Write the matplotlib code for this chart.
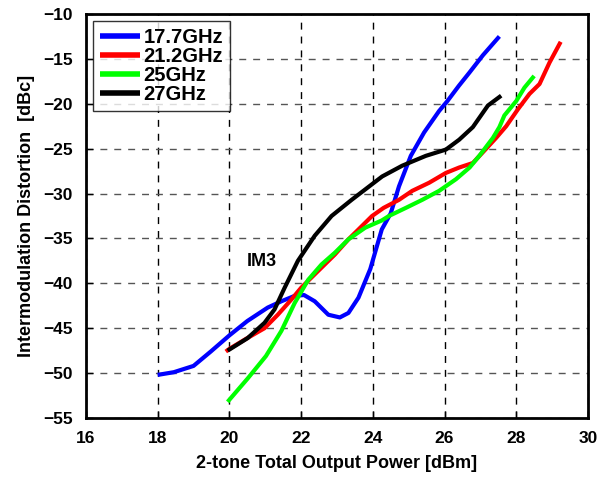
import matplotlib.pyplot as plt

plt.rcParams['font.family'] = ['Liberation Sans', 'DejaVu Sans']
plt.rcParams['font.weight'] = 'bold'

# 17.7GHz
x_177 = [18.0, 18.45, 19.0, 19.48, 20.0, 20.5, 21.07, 21.45, 21.82, 22.08, 22.38, 22.76,
         23.08, 23.32, 23.6, 23.93, 24.25, 24.5, 24.73, 25.06, 25.43, 25.85, 26.08, 26.4,
         26.7, 27.07, 27.53]
y_177 = [-50.2, -49.9, -49.2, -47.6, -45.8, -44.2, -42.7, -42.0, -41.4, -41.3, -42.0, -43.5,
         -43.8, -43.3, -41.6, -38.4, -34.0, -32.2, -29.2, -25.8, -23.2, -20.8, -19.7, -18.0,
         -16.5, -14.6, -12.5]

# 21.2GHz
x_212 = [19.9, 20.0, 20.5, 20.98, 21.35, 21.73, 22.0, 22.38, 22.94, 23.32, 23.6, 23.98,
         24.3, 24.73, 25.1, 25.57, 26.04, 26.41, 26.79, 27.07, 27.44, 27.72, 28.05, 28.37,
         28.65, 28.93, 29.24]
y_212 = [-47.6, -47.3, -46.1, -45.0, -43.5, -41.8, -40.5, -39.0, -36.8, -35.1, -34.0, -32.5,
         -31.6, -30.7, -29.7, -28.8, -27.7, -27.1, -26.6, -25.4, -23.8, -22.5, -20.6, -18.9,
         -17.8, -15.4, -13.1]

# 25GHz
x_25 = [19.95, 20.51, 21.02, 21.45, 21.82, 22.2, 22.57, 22.94, 23.32, 23.79, 24.25, 24.45,
        24.92, 25.38, 25.85, 26.32, 26.7, 26.97, 27.35, 27.53, 27.67, 28.0, 28.23, 28.5]
y_25 = [-53.2, -50.6, -48.1, -45.3, -42.2, -39.6, -37.9, -36.6, -35.1, -33.8, -33.0, -32.5,
        -31.6, -30.7, -29.7, -28.4, -27.1, -25.8, -23.8, -22.6, -21.3, -19.7, -18.2, -16.9]

# 27GHz
x_27 = [19.95, 20.51, 20.98, 21.26, 21.54, 21.91, 22.38, 22.85, 23.41, 24.26, 24.82, 25.48,
        26.04, 26.41, 26.79, 27.21, 27.58]
y_27 = [-47.5, -46.1, -44.4, -42.9, -40.5, -37.5, -34.7, -32.5, -30.7, -28.1, -26.9, -25.8,
        -25.1, -24.0, -22.6, -20.2, -19.1]

labels = ['17.7GHz', '21.2GHz', '25GHz', '27GHz']
colors = ['#0000ff', '#ff0000', '#00ff00', '#000000']

fig = plt.figure(figsize=(6.08, 4.82), dpi=100)
ax = fig.add_axes([0.1414, 0.1328, 0.8256, 0.8382])

for xs, ys, lab, c in zip([x_177, x_212, x_25, x_27], [y_177, y_212, y_25, y_27], labels, colors):
    ax.plot(xs, ys, color=c, lw=3, label=lab, solid_capstyle='butt')

ax.set_xlim(16, 30)
ax.set_ylim(-55, -10)
ax.set_xticks(range(16, 31, 2))
ax.set_yticks(range(-55, -9, 5))
ax.xaxis.grid(True, color='black', linestyle=(0, (5, 5)), lw=1)
ax.yaxis.grid(True, color='#555555', linestyle=(0, (5, 5)), lw=1)
ax.set_axisbelow(True)
for s in ax.spines.values():
    s.set_linewidth(2)
ax.tick_params(direction='in', length=5, width=1, labelsize=12.5, pad=9.5)

ax.set_xlabel('2-tone Total Output Power [dBm]', fontsize=13, fontweight='bold', labelpad=6)
ax.set_ylabel('Intermodulation Distortion  [dBc]', fontsize=13, fontweight='bold', labelpad=6)
ax.text(20.9, -37.6, 'IM3', fontsize=13, fontweight='bold', ha='center', va='center')

leg = ax.legend(loc='upper left', fontsize=14.5, frameon=True, fancybox=False, borderaxespad=0.35,
                handlelength=2.0, handletextpad=0.15, labelspacing=0.0, borderpad=0.35)
leg.get_frame().set_edgecolor('black')
leg.get_frame().set_linewidth(1)
for t in leg.get_texts():
    t.set_fontweight('bold')
for h in leg.get_lines():
    h.set_linewidth(4)

fig.savefig('out.png', dpi=100)
